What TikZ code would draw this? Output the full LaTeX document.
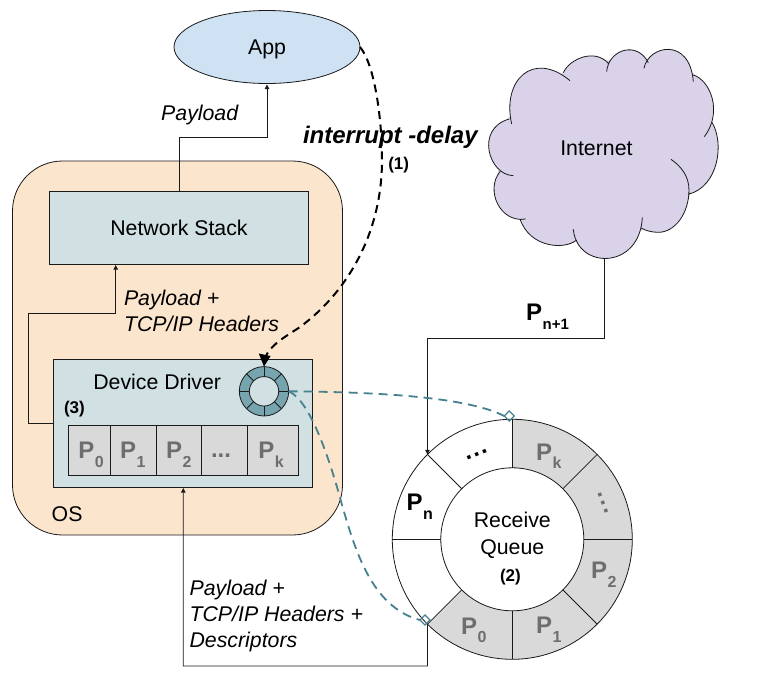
\documentclass[tikz,border=0pt]{standalone}
\usepackage{fontspec}
\setmainfont{Liberation Sans}
\usetikzlibrary{shapes.geometric,arrows.meta}
\definecolor{osfill}{HTML}{FCE5CD}
\definecolor{boxfill}{HTML}{D0E0E3}
\definecolor{appfill}{HTML}{CFE2F3}
\definecolor{cloudfill}{HTML}{D9D2E9}
\definecolor{slotfill}{HTML}{D9D9D9}
\definecolor{ringfill}{HTML}{76A5AF}
\definecolor{tealline}{HTML}{45818E}
\definecolor{linecol}{HTML}{1A1A1A}
\definecolor{pgray}{HTML}{6E6E6E}
\newcommand{\fnt}[1]{\fontsize{#1}{#1}\selectfont}
\newcommand{\Pk}[1]{\textbf{\fnt{24}P\kern0.6pt\raisebox{-8.8pt}{\fnt{16}#1}}}
\newcommand{\cloudlobes}{
  (95,252) .. controls (65,120) and (160,30) .. (270,122)
  (250,98) .. controls (270,55) and (345,25) .. (385,70)
  (380,95) .. controls (385,30) and (470,0) .. (505,68)
  (492,85) .. controls (505,15) and (630,-10) .. (640,125)
  (640,105) .. controls (690,120) and (730,215) .. (673,290)
  (695,245) .. controls (735,310) and (715,440) .. (625,463)
  (573,358) .. controls (605,380) and (627,410) .. (627,450) .. controls (627,520) and (585,577) .. (535,577) .. controls (515,577) and (498,572) .. (485,565)
  (487,532) .. controls (480,690) and (291,690) .. (280,568)
  (290,600) .. controls (255,630) and (150,625) .. (120,537)
  (137,537) .. controls (60,550) and (15,450) .. (60,395)
  (100,407) .. controls (25,405) and (-15,265) .. (88,237)
}
\tikzset{
  every node/.style={inner sep=0pt,outer sep=0pt},
  thinline/.style={draw=linecol,line width=0.8pt},
  arrowline/.style={thinline,-{Triangle[length=4.5pt,width=4.5pt]},shorten >=1pt},
  box/.style={draw=linecol,line width=0.8pt,fill=boxfill,rectangle},
  slot/.style={draw=linecol,line width=0.8pt,fill=slotfill,rectangle,minimum height=50pt},
  txt/.style={anchor=base west,font=\fnt{21.3}},
  itxt/.style={anchor=base west,font=\fnt{21.3}\itshape,align=left},
  btxt/.style={anchor=base west,font=\fnt{17}\bfseries},
  ptxt/.style={anchor=base west,text=pgray},
  centered/.style={font=\fnt{21.3},text height=15pt,text depth=0pt},
  intr/.style={draw=black,line width=2pt,dash pattern=on 8pt off 5.5pt},
  tealdash/.style={draw=tealline,line width=1.8pt,dash pattern=on 9pt off 6pt},
  tip/.style={draw=tealline,line width=1.3pt,diamond,minimum width=10pt,minimum height=10pt},
}
\begin{document}
\begin{tikzpicture}[x=1pt,y=-1pt]
\useasboundingbox (0,0) rectangle (761,691);
% OS
\node[draw=linecol,line width=0.8pt,fill=osfill,rectangle,rounded corners=50pt,minimum width=330pt,minimum height=374pt] (os) at (177.5,348) {};
\node[txt] (oslabel) at (51.7,521) {OS};
% App
\node[draw=linecol,line width=0.8pt,fill=appfill,ellipse,minimum width=186pt,minimum height=73pt,centered] (app) at (267,47) {App};
% Network stack
\node[box,minimum width=259pt,minimum height=72.5pt,centered] (stack) at (179,227.8) {Network Stack};
% Device driver
\node[box,minimum width=259pt,minimum height=127.7pt] (driver) at (182.8,423.2) {};
\node[txt] (driverlabel) at (93.3,389) {Device Driver};
\node[btxt] (three) at (64,413.3) {(3)};
% driver slots
\node[slot,minimum width=42pt] (s0) at (89.3,450.3) {};
\node[slot,minimum width=46pt] (s1) at (133.3,450.3) {};
\node[slot,minimum width=45.4pt] (s2) at (179,450.3) {};
\node[slot,minimum width=45.6pt] (s3) at (224.5,450.3) {};
\node[slot,minimum width=51pt] (s4) at (272.8,450.3) {};
\node[ptxt] (p0) at (78.3,458.3) {\Pk{0}};
\node[ptxt] (p1) at (120,458.3) {\Pk{1}};
\node[ptxt] (p2) at (166,458.3) {\Pk{2}};
\node[ptxt,font=\fnt{24}\bfseries] (pd) at (211,457.3) {...};
\node[ptxt] (pk) at (258.3,458.3) {\Pk{k}};
% small ring
\node[circle,draw=linecol,line width=0.8pt,fill=ringfill,minimum size=49.4pt] (sring) at (264,391.3) {};
\node[circle,draw=linecol,line width=0.8pt,fill=boxfill,minimum size=29.4pt] (sin) at (264,391.3) {};
\foreach \a in {0,45,...,315} \draw[thinline] (sin.\a) -- (sring.\a);
% Big ring
\node[circle,fill=white,minimum size=240pt] (bring) at (512.3,539.3) {};
\node[circle,minimum size=143pt] (bin) at (512.3,539.3) {};
\fill[slotfill] (bring.90) arc[start angle=90,end angle=-135,radius=120pt] -- (bin.-135) arc[start angle=-135,end angle=90,radius=71.5pt] -- cycle;
\foreach \a in {0,45,...,315} \draw[thinline] (bin.\a) -- (bring.\a);
\draw[thinline] (bring.center) circle[radius=120pt];
\draw[thinline] (bring.center) circle[radius=71.5pt];
\node[txt,anchor=base] (rq1) at (512.3,527.7) {Receive};
\node[txt,anchor=base] (rq2) at (512.3,554) {Queue};
\node[btxt] (two) at (500,581.7) {(2)};
\node[anchor=base west] (pn) at (406.6,510.7) {\Pk{n}};
\node[ptxt] (q0) at (461,634) {\Pk{0}};
\node[ptxt] (q1) at (536,633.3) {\Pk{1}};
\node[ptxt] (q2) at (591,578.3) {\Pk{2}};
\node[ptxt] (qk) at (536,460) {\Pk{k}};
\node[font=\fnt{24}\bfseries,rotate=22] (dots1) at (476.7,454.5) {.\kern1.7pt.\kern1.7pt.};
\node[font=\fnt{24}\bfseries,rotate=-70,text=pgray] (dots2) at (603.5,503) {.\kern1.7pt.\kern1.7pt.};
% Cloud
\begin{scope}[shift={(480,40)},x=0.3333pt,y=-0.3333pt]
  \fill[cloudfill] \cloudlobes;
  \draw[draw=cloudfill,fill=cloudfill,line width=1pt,line join=round] (85,235) -- (258,92) -- (383,62) -- (498,60) -- (640,100) -- (692,250) -- (630,460) -- (600,520) -- (490,568) -- (285,600) -- (130,545) -- (55,400) -- cycle;
  \draw[draw=linecol,line width=0.8pt] \cloudlobes;
\end{scope}
\node[txt,anchor=base] (internet) at (596.4,155.7) {Internet};
\coordinate (cloudb) at (604.4,258.3);
% connectors
\draw[arrowline] (stack.north) -- (179,137) -| (app.south);
\draw[arrowline] (driver.west |- 0,423) -- (28.3,423) |- (115.7,313.3) -- (stack.south -| 115.7,0);
\draw[arrowline] (bring.225) -- (427.45,666) -| (driver.south -| 183.3,0);
\draw[arrowline,shorten >=0pt] (cloudb) -- (604.4,338) -| (bring.135);
% labels
\node[itxt] (pl1) at (161.2,120) {Payload};
\node[itxt] (pl2a) at (124,305) {Payload +};
\node[itxt] (pl2b) at (124,331) {TCP/IP Headers};
\node[itxt] (pl3a) at (189.6,595.7) {Payload +};
\node[itxt] (pl3b) at (189.6,621.7) {TCP/IP Headers +};
\node[itxt] (pl3c) at (189.6,647.7) {Descriptors};
\node[anchor=base west,font=\fnt{24}\bfseries\itshape] (intlabel) at (303,143.3) {interrupt -delay};
\node[btxt] (one) at (388.3,169.5) {(1)};
\node[anchor=base west] (pnext) at (526,320) {\textbf{\fnt{24}P\kern0.6pt\raisebox{-9pt}{\fnt{15}n+1}}};
% dashed
\node[tip] (d1) at (509.3,416) {};
\node[tip] (d2) at (425,620) {};
\draw[tealdash] (sring.east) .. controls (370,392) and (465,396) .. (d1.west);
\draw[tealdash] (sring.east) .. controls (310,400) and (330,460) .. (342,505) .. controls (354,545) and (370,607) .. (d2.west);
\draw[intr] (app.east) .. controls (375,65) and (382,120) .. (382,160) .. controls (382,230) and (350,290) .. (300,327) .. controls (285,337) and (270,345) .. (265,358);
\fill[black] (sring.north) -- (258.8,353.5) -- (270.6,356) -- cycle;
\end{tikzpicture}
\end{document}
